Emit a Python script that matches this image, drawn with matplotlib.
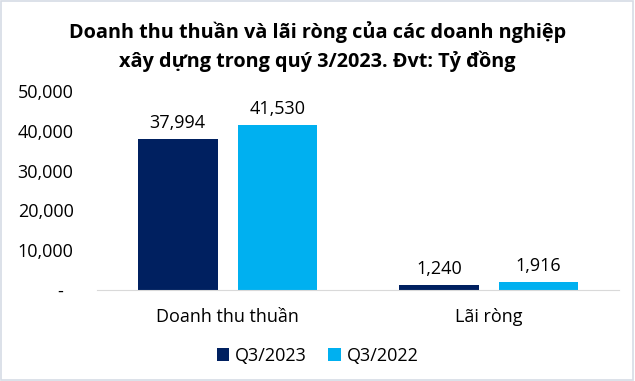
import matplotlib
matplotlib.use("Agg")
import matplotlib.pyplot as plt
import numpy as np
from matplotlib.patches import Rectangle
from matplotlib.ticker import FuncFormatter

plt.rcParams['font.family'] = ['Open Sans', 'DejaVu Sans']

# --- Data ---
categories = ['Doanh thu thuần', 'Lãi ròng']
series_names = ['Q3/2023', 'Q3/2022']
q3_2023 = [37994, 1240]
q3_2022 = [41530, 1916]

title = 'Doanh thu thuần và lãi ròng của các doanh nghiệp\nxây dựng trong quý 3/2023. Đvt: Tỷ đồng'

c_dark = '#002060'
c_light = '#00B0F0'
fs = 13

fig = plt.figure(figsize=(6.35, 3.81), dpi=100)
ax = fig.add_axes([0.153, 0.239, 0.822, 0.522])

x = np.arange(len(categories))
bar_width = 0.306
offset = 0.191

bars1 = ax.bar(x - offset, q3_2023, width=bar_width, color=c_dark, label=series_names[0])
bars2 = ax.bar(x + offset, q3_2022, width=bar_width, color=c_light, label=series_names[1])

for bars in (bars1, bars2):
    for b in bars:
        h = b.get_height()
        ax.annotate(f'{h:,.0f}', (b.get_x() + b.get_width() / 2, h),
                    xytext=(0, 5), textcoords='offset points',
                    ha='center', va='bottom', fontsize=fs, color='black')

ax.set_xlim(-0.5, 1.5)
ax.set_ylim(0, 50000)
ax.set_yticks(np.arange(0, 50001, 10000))
ax.yaxis.set_major_formatter(FuncFormatter(lambda v, p: '-  ' if v == 0 else f'{v:,.0f}'))
ax.set_xticks(x)
ax.set_xticklabels(categories, fontsize=fs)
ax.tick_params(axis='both', length=0, labelsize=fs)
ax.tick_params(axis='x', pad=13)
ax.tick_params(axis='y', pad=17)

for s in ('top', 'right', 'left'):
    ax.spines[s].set_visible(False)
ax.spines['bottom'].set_color('#d9d9d9')

fig.suptitle(title, fontsize=14.3, fontweight='bold', y=0.945, linespacing=1.45)

fig.legend(loc='lower center', ncol=2, frameon=False, fontsize=fs,
           bbox_to_anchor=(0.5, 0.0), handlelength=0.7, handleheight=0.7,
           handletextpad=0.3, columnspacing=1.2)

fig.patches.append(Rectangle((0.002, 0.003), 0.995, 0.994, transform=fig.transFigure,
                             fill=False, edgecolor='#d6dce5', linewidth=1.2))

fig.savefig('out.png', dpi=100)
